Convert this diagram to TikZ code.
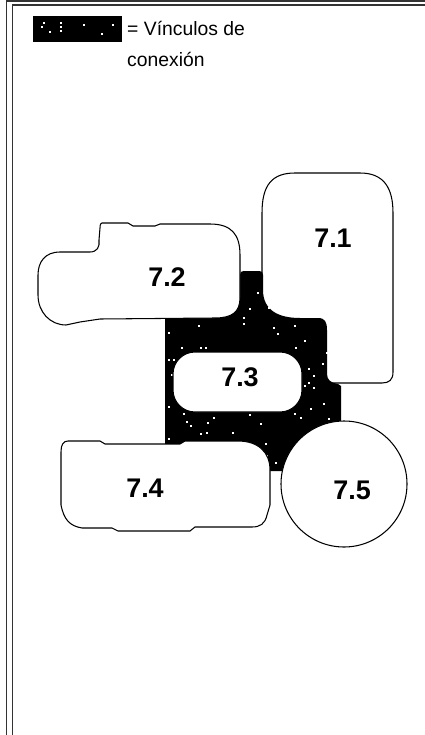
\documentclass[tikz,border=0pt]{standalone}
\usepackage{fontspec}
\setmainfont{Liberation Sans}
\usetikzlibrary{positioning}

\begin{document}
\begin{tikzpicture}[x=0.03cm,y=-0.03cm,
    region/.style={draw=black,fill=white,line width=0.9pt,line join=round},
    blob/.style={fill=black},
    lbl/.style={font=\fontsize{23}{23}\selectfont\bfseries,inner sep=0pt},
    legtext/.style={font=\fontsize{16.5}{20}\selectfont,inner sep=0pt},
    frame/.style={draw=black!80,line width=1.4pt},
  ]
  \useasboundingbox (0,0) rectangle (425,735);
  % double frame, left and top
  \draw[frame] (6.5,735) -- (6.5,1.2) -- (425,1.2);
  \draw[frame] (12.5,735) -- (12.5,5) -- (425,5);

  % legend
  \node[blob,minimum width=2.67cm,minimum height=0.78cm,inner sep=0pt]
    (swatch) at (77.5,29) {};
  \foreach \p in {(43,22),(41,26),(49,31),(60,22),(60,26),(60,30),
                  (83,24),(101,33),(112,24)}
    \fill[white] \p rectangle +(1.6,1.6);
  \node[legtext,anchor=base west] (legline1) at (127,36) {= Vínculos de};
  \node[legtext,anchor=base west] (legline2) at (127,67) {conexión};

  % 7.1 goes first, the joint area lies over its corner
  \draw[region] (262,383) -- (262,213)
    .. controls (262,185) and (272,173) .. (295,173) -- (360,173)
    .. controls (384,173) and (393,188) .. (393,213) -- (393,372)
    .. controls (393,380) and (389,383) .. (382,383) -- cycle;

  % connection area
  \fill[blob] (240,300) -- (240,275)
    .. controls (240,272) and (241,271) .. (244,271) -- (259,271)
    .. controls (262,271) and (263,272) .. (263,275) -- (263,290)
    .. controls (263,310) and (278,318) .. (300,318) -- (318,318)
    .. controls (325,318) and (327,322) .. (327,330) -- (327,374)
    .. controls (327,380) and (331,383) .. (338,384) -- (341,386)
    -- (341,430) -- (300,471) -- (268,471) -- (268,455)
    -- (165,455) -- (165,316) -- (225,316) -- cycle;
  \foreach \p in {(257,292),(249,308),(268,307),(243,317),(243,323),
                  (198,325),(168,332),(181,347),(200,347),(205,347),
                  (273,327),(277,333),(294,325),(304,340),(295,347),
                  (322,363),(326,352),(168,359),(173,359),(171,374),
                  (308,368),(313,375),(308,382),(304,385),(313,387),
                  (323,403),(310,408),(168,406),(183,413),(186,421),
                  (190,425),(207,422),(213,417),(249,414),(260,423),
                  (294,413),(300,417),(328,418),(232,432),(200,433),
                  (206,432),(168,438),(250,443),(265,443),(275,462),
                  (286,461)}
    \fill[white] \p rectangle +(1.6,1.6);

  % 7.2
  \draw[region] (102,223) -- (128,223) -- (133,226) -- (155,226)
    -- (160,224) -- (210,224)
    .. controls (232,224) and (240,235) .. (240,255) -- (240,298)
    .. controls (240,312) and (232,318) .. (215,318) -- (100,319)
    -- (80,322) -- (66,325)
    .. controls (50,325) and (38,312) .. (38,295) -- (38,275)
    .. controls (38,262) and (45,252) .. (60,252) -- (90,252)
    .. controls (97,252) and (100,247) .. (99,240) -- (100,228)
    .. controls (100,224) and (101,223) .. (102,223) -- cycle;

  % 7.4
  \draw[region] (68,441) -- (100,441) -- (105,444) -- (180,444)
    -- (185,441) -- (238,441)
    .. controls (258,441) and (270,452) .. (270,470) -- (270,505)
    -- (267,515) .. controls (265,524) and (260,527) .. (252,527)
    -- (195,527) -- (190,531) -- (118,531) -- (112,528) -- (82,528)
    .. controls (70,526) and (64,520) .. (61,505) -- (61,452)
    .. controls (61,445) and (63,441) .. (68,441) -- cycle;

  % 7.5
  \draw[region] (344,484) circle (63);

  % 7.3
  \draw[region,rounded corners=0.66cm] (173,352) rectangle (302,412);

  % labels
  \node[lbl] (lbl71) at (333,238) {7.1};
  \node[lbl] (lbl72) at (167,277) {7.2};
  \node[lbl] (lbl73) at (240,377) {7.3};
  \node[lbl] (lbl74) at (145,488) {7.4};
  \node[lbl] (lbl75) at (352,490) {7.5};
\end{tikzpicture}
\end{document}
